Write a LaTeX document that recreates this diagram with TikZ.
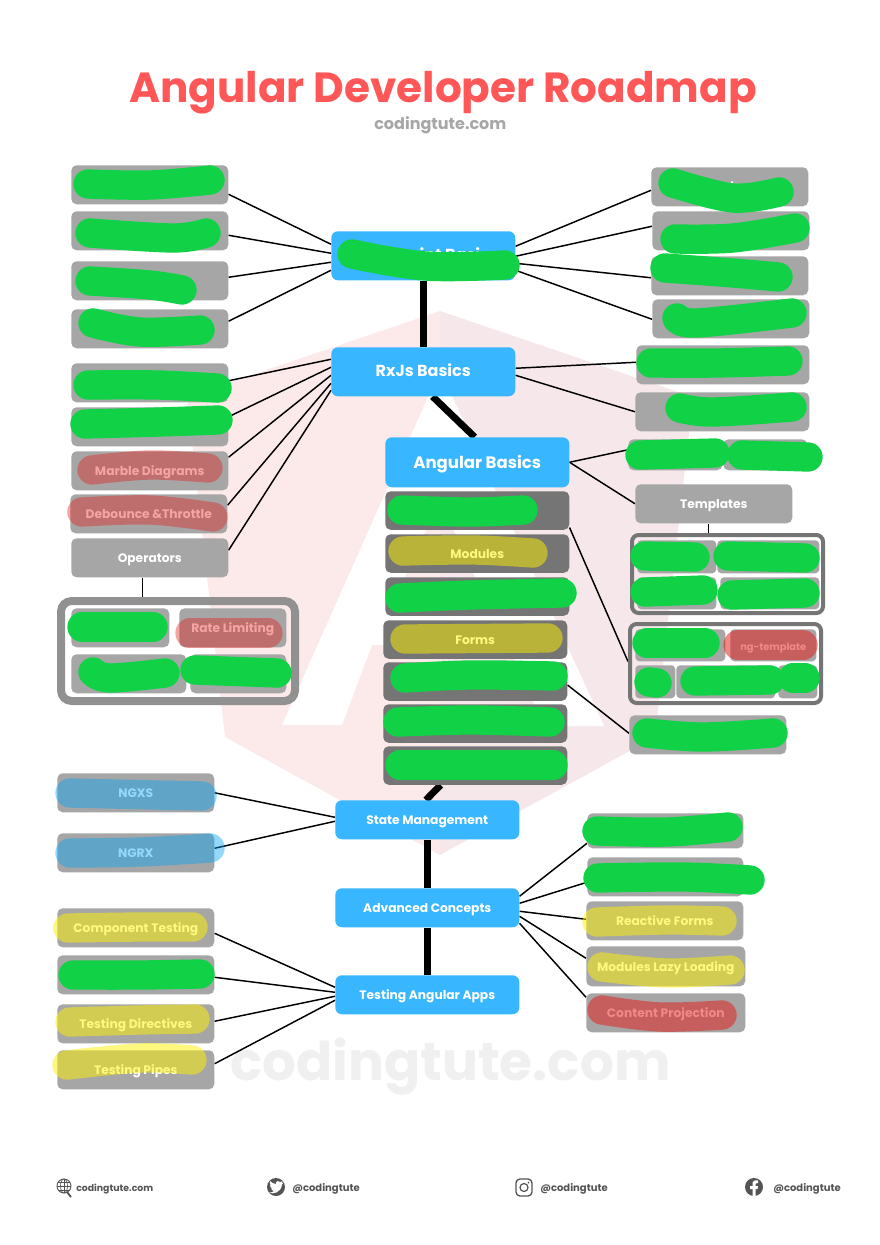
\documentclass[tikz,border=0pt]{standalone}
\usepackage{fontspec}
\setmainfont{Poppins}
\usetikzlibrary{backgrounds, positioning, calc}
\definecolor{tagcol}{HTML}{A6A6A6}
\definecolor{darkcol}{HTML}{757575}
\definecolor{framecol}{HTML}{919191}
\definecolor{hubcol}{HTML}{38B6FF}
\definecolor{inkgreen}{HTML}{11D247}
\definecolor{inkred}{RGB}{230,28,28}
\definecolor{inkblue}{RGB}{0,165,247}
\definecolor{inkyellow}{RGB}{255,242,0}
\definecolor{titlecol}{HTML}{FF5757}
\definecolor{footcol}{HTML}{545454}
\definecolor{shieldl}{RGB}{252,233,233}
\definecolor{shieldr}{RGB}{246,232,234}
\tikzset{
    wh/.style 2 args={minimum width=#1*0.75pt, minimum height=#2*0.75pt},
    base/.style={anchor=north west, inner sep=0pt, text=white, text height=8pt, text depth=.5pt, font=\bfseries\fontsize{9.2}{11}\selectfont},
    tag/.style={base, fill=tagcol, rounded corners=4pt, wh={157}{39}},
    dark/.style={base, fill=darkcol, rounded corners=4pt, wh={184}{38.5}},
    hub/.style={base, fill=hubcol, rounded corners=5pt, wh={184}{39}},
    frame/.style={anchor=north west, inner sep=0pt, draw=framecol, rounded corners=8pt},
    link/.style={draw=black, line width=1.1pt},
    spine/.style={draw=black, line width=5.2pt},
    ink/.style={line width=22pt, line cap=round, line join=round},
    inkg/.style={ink, draw=inkgreen},
    inkr/.style={ink, draw=inkred, draw opacity=.4},
    inkdr/.style={ink, draw=inkred, draw opacity=.52},
    inkb/.style={ink, draw=inkblue, draw opacity=.42},
    inky/.style={ink, draw=inkyellow, draw opacity=.5},
    foot/.style={anchor=base west, inner sep=0pt, text=footcol, font=\bfseries\fontsize{7.5}{8}\selectfont},
}
\newcommand{\blob}[2]{\draw[#1] plot[smooth, tension=.6] coordinates {#2};}
\begin{document}
\begin{tikzpicture}[x=0.75pt, y=-0.75pt]
    \useasboundingbox (0,0) rectangle (880,1245);
    \begin{scope}[on background layer]
        \fill[white] (0,0) rectangle (880,1245);
        \fill[shieldl] (440,311) -- (187,397) -- (225,737) -- (440,855) -- cycle;
        \fill[shieldr] (440,311) -- (693,397) -- (655,737) -- (440,855) -- cycle;
        \fill[white] (440,370) -- (282,725) -- (342,725) -- (372,645) -- (508,645) -- (544,726) -- (604,726) -- cycle;
        \fill[shieldl] (440,500) -- (399,590) -- (440,590) -- cycle;
        \fill[shieldr] (440,500) -- (481,590) -- (440,590) -- cycle;
        \node[anchor=base west, inner sep=0pt, text=black!6, font=\bfseries\fontsize{40}{44}\selectfont] (mark) at (230,1080) {codingtute.com};
    \end{scope}

    \node[anchor=base, inner sep=0pt, text=titlecol, font=\bfseries\fontsize{31.6}{36}\selectfont] (title) at (443,103) {Angular Developer Roadmap};
    \node[inner sep=0pt, text=tagcol, font=\bfseries\fontsize{12}{14}\selectfont, below=1pt of title, xshift=-2pt] (site) {codingtute.com};

    \node[hub] (js) at (331,231) [wh={184}{49}] {\fontsize{12}{14}\selectfont\hspace*{40pt}ipt Basi};
    \node[hub] (rx) at (331,347) [wh={184}{49}] {\fontsize{12}{14}\selectfont RxJs Basics};
    \node[hub, text height=9.5pt] (ng) at (385,437) [wh={184}{50}] {\fontsize{12.4}{14}\selectfont Angular Basics};
    \node[hub] (state) at (335,800) {State Management};
    \node[hub] (adv) at (335,888) {Advanced Concepts};
    \node[hub] (test) at (335,975) {Testing Angular Apps};

    \node[tag] (ja) at (71,165) {};
    \node[tag] (jb) at (71,211) {};
    \node[tag] (jc) at (71,261) {};
    \node[tag] (jd) at (71,309) {};
    \node[tag] (rxa) at (71,363) {};
    \node[tag] (rxb) at (71,407) {};
    \node[tag] (marble) at (71,451) {Marble Diagrams};
    \node[tag] (deb) at (70,494) {Debounce \&Throttle};
    \node[tag] (oper) at (71,538) {Operators};
    \node[frame, line width=6pt, wh={234}{100}] (opbox) at (57,597) {};
    \node[tag, wh={98}{39}] (opa) at (71,608) {};
    \node[tag, wh={107}{39}] (rate) at (179,608) {Rate Limiting};
    \node[tag, wh={115}{39}] (opc) at (71,654) {};
    \node[tag, wh={96}{39}] (opd) at (190,654) {};

    \node[tag] (ea) at (651,167) {ti};
    \node[tag] (eb) at (652,211) {\hspace*{-34pt}M};
    \node[tag] (ec) at (651,256) {};
    \node[tag] (ed) at (652,299) {};
    \node[tag, wh={173}{39}] (ee) at (636,345) {};
    \node[tag, wh={174}{39}] (ef) at (635,392) {};
    \node[tag, wh={94}{31}] (ega) at (628,439) {};
    \node[tag, wh={84}{31}] (egb) at (723,439) {};
    \node[tag] (tmpl) at (635,484) {Templates};
    \node[frame, draw=darkcol, line width=3pt, rounded corners=5pt, wh={191}{78}] (tbox) at (630,533) {};
    \node[tag, rounded corners=3pt, wh={79}{33}] (ta) at (637,540) {};
    \node[tag, rounded corners=3pt, wh={102}{33}] (tb) at (717,540) {};
    \node[tag, rounded corners=3pt, wh={79}{32}] (tc) at (637,577) {};
    \node[tag, rounded corners=3pt, wh={99}{32}] (td) at (720,577) {};
    \node[frame, draw=darkcol, line width=3pt, rounded corners=5pt, wh={191}{79}] (nbox) at (628,622) {};
    \node[tag, rounded corners=3pt, wh={90}{32}] (na) at (635,629) {};
    \node[tag, rounded corners=3pt, wh={86}{32}, font=\bfseries\fontsize{7.4}{9}\selectfont] (ngt) at (730,629) {ng-template};
    \node[tag, rounded corners=3pt, wh={40}{33}] (nc) at (635,665) {};
    \node[tag, rounded corners=3pt, wh={99}{33}] (nd) at (676,665) {};
    \node[tag, rounded corners=3pt, wh={39}{33}] (ne) at (778,665) {};
    \node[tag] (last) at (629,715) {};

    \node[dark] (da) at (385,491) {};
    \node[dark] (db) at (385,534) {Modules};
    \node[dark] (dc) at (385,577) {};
    \node[dark] (dd) at (383,620) {Forms};
    \node[dark] (de) at (383,662) {};
    \node[dark] (df) at (383,704) {};
    \node[dark] (dg) at (383,746) {};

    \node[tag] (ngxs) at (57,773) {NGXS};
    \node[tag] (ngrx) at (57,833) {NGRX};
    \node[tag] (comp) at (57,908) {Component Testing};
    \node[tag] (tsvc) at (57,955) {};
    \node[tag] (tdir) at (57,1004) {Testing Directives};
    \node[tag] (tpipe) at (57,1050) {Testing Pipes};

    \node[tag] (aa) at (587,813) [wh={156}{35}] {};
    \node[tag] (ab) at (587,857) [wh={156}{39}] {};
    \node[tag] (ac) at (586,901) {Reactive Forms};
    \node[tag] (ad) at (586,946) [wh={159}{40}] {Modules Lazy Loading};
    \node[tag] (ae) at (586,993) [wh={159}{39}] {Content Projection};

    \begin{scope}[on background layer]
        \foreach \a/\b/\ya/\yb in {ja/js/9.5/-11.5, jb/js/4.5/-2.5, jc/js/-3.5/6.5, jd/js/-7.5/14.5,
            rxa/rx/-2/-12.5, rxb/rx/-10/-4.5, marble/rx/-13.5/3.5, deb/rx/-8.5/11.5, oper/rx/-7.5/18.5,
            ngxs/state/0/-2.5, ngrx/state/-4.5/1.5,
            comp/test/5.5/-7.5, tsvc/test/2.5/-2.5, tdir/test/-2.5/1.5, tpipe/test/-6/5.5}
            \draw[link] ([shift={(0,\ya)}]\a.east) -- ([shift={(0,\yb)}]\b.west);
        \foreach \a/\b/\ya/\yb in {js/ea/-9.5/3.5, js/eb/0.5/-4.5, js/ec/7.5/2, js/ed/14.5/0.5,
            rx/ee/-3.5/-2.5, rx/ef/3.5/0,
            ng/ega/0/-5, ng/tmpl/0/0, da/nbox/17/-2, de/last/3.5/-1.5,
            adv/aa/-11.5/12.5, adv/ab/-4.5/5.5, adv/ac/3.5/-1.5, adv/ad/8.5/-8, adv/ae/15.5/-15.5}
            \draw[link] ([shift={(0,\ya)}]\a.east) -- ([shift={(0,\yb)}]\b.west);
        \draw[link] ([xshift=-5.6pt]oper.south) -- ([xshift=-5.6pt]oper.south |- opbox.north);
        \draw[link] ([xshift=-4.1pt]tmpl.south) -- ([xshift=-4.1pt]tmpl.south |- tbox.north);
        \draw[spine] (js) -- (rx);
        \draw[spine] ([xshift=7pt]rx.south) -- ([xshift=-2pt]ng.north);
        \draw[spine] ([xshift=-26pt]dg.south) -- ([xshift=-1pt]state.north);
        \draw[spine] (state) -- (adv);
        \draw[spine] (adv) -- (test);
    \end{scope}

    \blob{inkg}{(88,184) (150,185) (210,180)}
    \blob{inkg}{(90,233) (173,238) (206,233)}
    \blob{inkg}{(90,281) (150,285) (182,290)}
    \blob{inkg}{(93,323) (140,332) (200,330)}
    \blob{inkg}{(88,385) (157,385) (217,388)}
    \blob{inkg}{(85,424) (160,422) (218,420)}
    \blob{inkr}{(92,470) (150,465) (208,468)}
    \blob{inkr}{(82,512) (150,510) (213,517)}
    \blob{inkg}{(82,627) (153,627)}
    \blob{inkr}{(190,633) (268,633)}
    \blob{inkg}{(93,672) (110,678) (165,673)}
    \blob{inkg}{(195,670) (277,673)}

    \blob{inkg}{(673,183) (733,198) (779,192)}
    \blob{inkg}{(675,239) (733,238) (795,228)}
    \blob{inkg}{(665,268) (733,273) (778,277)}
    \blob{inkg}{(677,318) (697,323) (792,313)}
    \blob{inkg}{(651,363) (717,363) (788,361)}
    \blob{inkg}{(680,408) (713,412) (792,407)}
    \blob{inkg}{(640,455) (715,453)}
    \blob{inkg}{(742,455) (808,457)}
    \blob{inkg}{(352,254) (425,266) (505,265)}

    \blob{inkg}{(402,510) (470,512) (523,510)}
    \blob{inky}{(403,551) (473,550) (533,553)}
    \blob{inkg}{(400,598) (470,595) (562,593)}
    \blob{inky}{(405,639) (548,638)}
    \blob{inkg}{(405,678) (470,675) (553,676)}
    \blob{inkg}{(398,722) (470,720) (550,722)}
    \blob{inkg}{(400,765) (553,765)}

    \blob{inkg}{(645,556) (695,557)}
    \blob{inkg}{(728,556) (805,558)}
    \blob{inkg}{(645,592) (703,590)}
    \blob{inkg}{(732,595) (805,593)}
    \blob{inkg}{(647,643) (705,643)}
    \blob{inkdr}{(738,645) (803,645)}
    \blob{inkg}{(649,682) (657,683)}
    \blob{inkg}{(695,681) (770,680)}
    \blob{inkg}{(793,678) (805,678)}
    \blob{inkg}{(647,733) (703,737) (773,733)}

    \blob{inkb}{(70,793) (157,795) (202,796)}
    \blob{inkb}{(70,853) (140,852) (210,848)}
    \blob{inky}{(68,928) (140,927) (193,927)}
    \blob{inkg}{(73,975) (140,975) (200,974)}
    \blob{inky}{(70,1022) (140,1020) (195,1019)}
    \blob{inky}{(67,1065) (140,1058) (192,1060)}

    \blob{inkg}{(597,831) (667,832) (728,827)}
    \blob{inkg}{(598,878) (683,877) (750,880)}
    \blob{inky}{(597,922) (667,920) (722,921)}
    \blob{inky}{(602,967) (667,973) (730,970)}
    \blob{inkdr}{(602,1010) (660,1017) (722,1015)}

    % footer
    \draw[footcol, line width=.7pt] (64,1186) circle (7);
    \draw[footcol, line width=.5pt] (64,1179) -- (64,1193) (57,1186) -- (71,1186) (58,1182) -- (70,1182) (58,1190) -- (70,1190);
    \draw[footcol, line width=.5pt] (64,1186) ellipse (3.5 and 7);
    \draw[footcol, line width=1.4pt] (67,1192) -- (71,1197);
    \node[foot, font=\bfseries\fontsize{7}{8}\selectfont] (fa) at (76,1191) {codingtute.com};

    \fill[footcol] (276,1187) circle (9);
    \fill[white] (269,1192.5) .. controls (273,1194.5) and (281,1193) .. (282,1184.5) -- (283.5,1182.5) -- (281.5,1183) -- (282.5,1181) -- (280.5,1182) .. controls (279,1180) and (275.5,1181) .. (276,1184) .. controls (273.5,1184) and (271.5,1182.5) .. (270,1181) .. controls (269.5,1183) and (270,1184.5) .. (271,1185.5) -- (270,1185.2) .. controls (270,1187) and (271,1188) .. (272.5,1188.5) -- (271,1188.5) .. controls (271.5,1190) and (272.5,1190.5) .. (274,1191) .. controls (273,1192) and (271,1192.7) .. (269,1192.5) -- cycle;
    \node[foot] (fb) at (292,1191) {@codingtute};

    \draw[footcol, line width=1pt, rounded corners=3pt] (516,1179) rectangle (532,1196);
    \draw[footcol, line width=.9pt] (524,1187.5) circle (4);
    \fill[footcol] (528.5,1182.5) circle (1);
    \node[foot] (fc) at (540,1191) {@codingtute};

    \fill[footcol] (754,1187) circle (9);
    \fill[white] (752.5,1196) -- (752.5,1189) -- (750,1189) -- (750,1186) -- (752.5,1186) -- (752.5,1184) .. controls (752.5,1181) and (754,1180) .. (758,1180.5) -- (758,1183) -- (756.5,1183) .. controls (755.5,1183) and (755.5,1184) .. (755.5,1184.5) -- (755.5,1186) -- (758,1186) -- (757.5,1189) -- (755.5,1189) -- (755.5,1196) -- cycle;
    \node[foot] (fd) at (773,1191) {@codingtute};
\end{tikzpicture}
\end{document}
